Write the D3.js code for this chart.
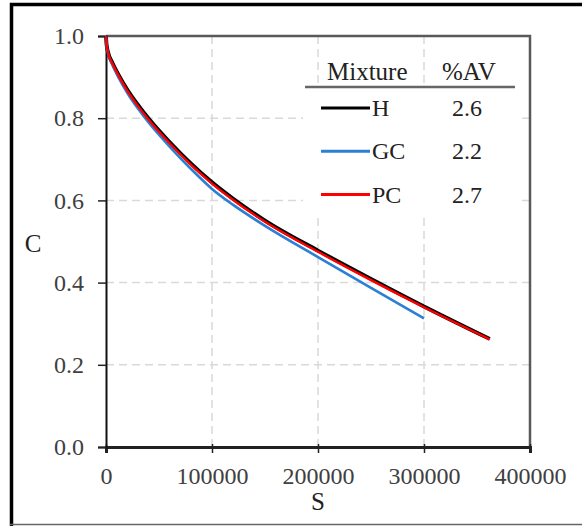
<!DOCTYPE html>
<html>
<head>
<meta charset="utf-8">
<script src="https://cdn.jsdelivr.net/npm/d3@7"></script>
<style>
    body { margin: 0; background: #fff; }
    svg { display: block; }
    svg text { font-family: 'Liberation Serif', 'Times New Roman', serif; }
</style>
</head>
<body>
<svg id="chart"></svg>
<script>
// S values and C readings, one list per mixture
const sH = [0, 500, 2000, 6000, 12000, 20000, 30000, 40000, 60000, 80000, 100000, 120000, 150000, 200000, 250000, 300000, 362000]
const cH = [1.0, 0.98, 0.96, 0.935, 0.905, 0.87, 0.833, 0.80, 0.742, 0.69, 0.644, 0.604, 0.551, 0.478, 0.409, 0.342, 0.263]

const sGC = [0, 500, 2000, 6000, 12000, 20000, 30000, 40000, 60000, 80000, 100000, 120000, 150000, 200000, 250000, 300000]
const cGC = [1.0, 0.978, 0.957, 0.93, 0.898, 0.862, 0.824, 0.79, 0.731, 0.677, 0.628, 0.589, 0.538, 0.462, 0.387, 0.313]

const sPC = [0, 500, 2000, 6000, 12000, 20000, 30000, 40000, 60000, 80000, 100000, 120000, 150000, 200000, 250000, 300000, 362000]
const cPC = [1.0, 0.98, 0.959, 0.933, 0.903, 0.867, 0.83, 0.797, 0.739, 0.687, 0.641, 0.601, 0.548, 0.475, 0.406, 0.34, 0.262]

const mixtures = ['H', 'GC', 'PC']
const avPercent = ['2.6', '2.2', '2.7']

const xTicks = [0, 100000, 200000, 300000, 400000]
const yTicks = [0, 0.2, 0.4, 0.6, 0.8, 1.0]

const chart = {}

chart.width_ = 582
chart.height_ = 526
chart.margin = {top: 36, right: 52, bottom: 79, left: 106}
chart.width = chart.width_ - chart.margin.left - chart.margin.right
chart.height = chart.height_ - chart.margin.top - chart.margin.bottom

chart.series = [
    {name: 'H', s: sH, c: cH, color: '#000000', width: 3.8},
    {name: 'GC', s: sGC, c: cGC, color: '#2b7fd4', width: 2.6},
    {name: 'PC', s: sPC, c: cPC, color: '#ff0000', width: 2.4}
]

chart.svg = d3.select('#chart')
    .attr('width', chart.width_)
    .attr('height', chart.height_)

// outer frame
chart.svg.append('path')
    .attr('fill', 'none')
    .attr('stroke', '#000')
    .attr('stroke-width', 3.5)
    .attr('d', 'M11.5,590 V4.5 H590')
chart.svg.append('line')
    .attr('x1', 10).attr('x2', 582)
    .attr('y1', 524.5).attr('y2', 524.5)
    .attr('stroke', '#666')
    .attr('stroke-width', 1.5)

chart.g = chart.svg.append('g')
    .attr('transform', `translate(${chart.margin.left}, ${chart.margin.top})`)

chart.x = d3.scaleLinear()
    .domain([0, 400000])
    .range([0, chart.width])
chart.y = d3.scaleLinear()
    .domain([0, 1])
    .range([chart.height, 0])

// grid
chart.g.append('g').selectAll('line')
    .data(xTicks.slice(1, -1))
    .enter().append('line')
    .attr('x1', chart.x).attr('x2', chart.x)
    .attr('y1', 0).attr('y2', chart.height)
    .attr('stroke', '#d9d9d9')
    .attr('stroke-width', 1.5)
    .attr('stroke-dasharray', '8,5')
chart.g.append('g').selectAll('line')
    .data(yTicks.slice(1, -1))
    .enter().append('line')
    .attr('x1', 0).attr('x2', chart.width)
    .attr('y1', chart.y).attr('y2', chart.y)
    .attr('stroke', '#d9d9d9')
    .attr('stroke-width', 1.5)
    .attr('stroke-dasharray', '8,5')

// top and right border
chart.g.append('path')
    .attr('fill', 'none')
    .attr('stroke', '#595959')
    .attr('stroke-width', 2.5)
    .attr('d', `M0,${chart.y(1)} H${chart.x(400000)} V${chart.y(0)}`)

// axes
const xAxis = chart.g.append('g')
    .attr('transform', `translate(0, ${chart.height})`)
    .call(d3.axisBottom(chart.x).tickValues(xTicks).tickFormat(d3.format('d')).tickSize(6).tickPadding(14))
    .attr('font-family', null)
xAxis.select('.domain').attr('stroke', '#222').attr('stroke-width', 3)
xAxis.selectAll('.tick line').attr('stroke', '#222').attr('stroke-width', 1.5).attr('y1', -3)
xAxis.selectAll('text')
    .attr('fill', '#404040')
    .attr('font-size', 24)

const yAxis = chart.g.append('g')
    .call(d3.axisLeft(chart.y).tickValues(yTicks).tickFormat(d3.format('.1f')).tickSize(8).tickPadding(14))
    .attr('font-family', null)
yAxis.select('.domain').attr('stroke', '#111').attr('stroke-width', 2)
yAxis.selectAll('.tick line').attr('stroke', '#222').attr('stroke-width', 1.5)
yAxis.selectAll('text')
    .attr('fill', '#404040')
    .attr('font-size', 24)

// axis titles
chart.svg.append('text')
    .attr('x', chart.margin.left + chart.x(200000))
    .attr('y', 510)
    .attr('text-anchor', 'middle')
    .attr('font-size', 25)
    .attr('fill', '#222')
    .text('S')
chart.svg.append('text')
    .attr('x', 33)
    .attr('y', 252)
    .attr('text-anchor', 'middle')
    .attr('font-size', 25)
    .attr('fill', '#222')
    .text('C')

// curves
const line = d3.line()
    .x(d => chart.x(d[0]))
    .y(d => chart.y(d[1]))
    .curve(d3.curveMonotoneX)

chart.g.append('g').selectAll('path')
    .data(chart.series)
    .enter().append('path')
    .attr('fill', 'none')
    .attr('stroke', d => d.color)
    .attr('stroke-width', d => d.width)
    .attr('stroke-linejoin', 'round')
    .attr('d', d => line(d.s.map((s, i) => [s, d.c[i]])))

// legend
const legend = chart.svg.append('g')

legend.append('rect')
    .attr('x', 303).attr('y', 88)
    .attr('width', 214).attr('height', 126)
    .attr('fill', '#fff')

legend.append('text')
    .attr('x', 327).attr('y', 80)
    .attr('font-size', 25)
    .attr('fill', '#222')
    .text('Mixture')
legend.append('text')
    .attr('x', 442).attr('y', 80)
    .attr('font-size', 25)
    .attr('fill', '#222')
    .text('%AV')
legend.append('line')
    .attr('x1', 305).attr('x2', 515)
    .attr('y1', 87).attr('y2', 87)
    .attr('stroke', '#666')
    .attr('stroke-width', 2.5)

const row = legend.selectAll('g.row')
    .data(chart.series)
    .enter().append('g')
    .attr('class', 'row')
    .attr('transform', (d, i) => `translate(0, ${108 + i * 43.3})`)
row.append('line')
    .attr('x1', 321).attr('x2', 370)
    .attr('stroke', d => d.color)
    .attr('stroke-width', 3)
row.append('text')
    .attr('x', 372).attr('y', 8)
    .attr('font-size', 24)
    .attr('fill', '#222')
    .text((d, i) => mixtures[i])
row.append('text')
    .attr('x', 452).attr('y', 8)
    .attr('font-size', 24)
    .attr('fill', '#222')
    .text((d, i) => avPercent[i])
</script>
</body>
</html>
